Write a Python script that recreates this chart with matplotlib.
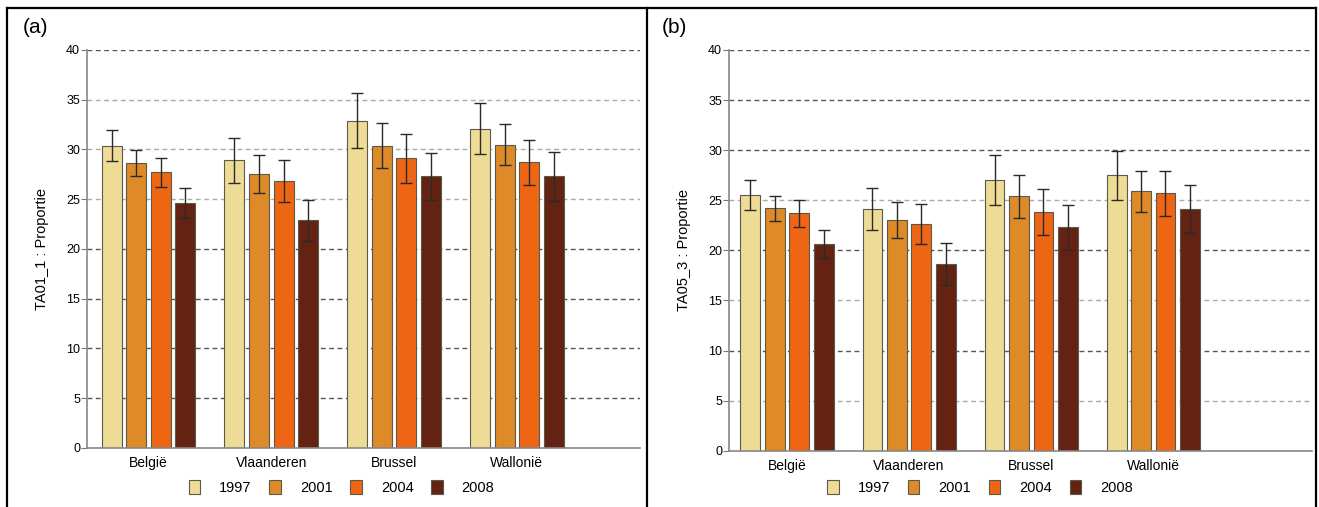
import matplotlib.pyplot as plt
import matplotlib.lines as mlines
import numpy as np

plt.rcParams['font.family'] = ['Liberation Sans', 'DejaVu Sans']

regions = ['België', 'Vlaanderen', 'Brussel', 'Walloni\u00eb']
years = ['1997', '2001', '2004', '2008']
colors = ['#EEDC96', '#DE8A28', '#EE6514', '#642312']

# panel (a): TA01_1
a_1997 = [30.4, 28.9, 32.9, 32.1]
a_2001 = [28.6, 27.5, 30.4, 30.5]
a_2004 = [27.7, 26.8, 29.1, 28.7]
a_2008 = [24.6, 22.9, 27.3, 27.3]
a_err_1997 = [1.6, 2.3, 2.75, 2.6]
a_err_2001 = [1.3, 1.9, 2.3, 2.1]
a_err_2004 = [1.45, 2.1, 2.5, 2.3]
a_err_2008 = [1.5, 2.05, 2.35, 2.45]

# panel (b): TA05_3
b_1997 = [25.5, 24.1, 27.0, 27.5]
b_2001 = [24.2, 23.0, 25.4, 25.9]
b_2004 = [23.7, 22.6, 23.8, 25.7]
b_2008 = [20.6, 18.6, 22.3, 24.1]
b_err_1997 = [1.5, 2.1, 2.5, 2.45]
b_err_2001 = [1.25, 1.8, 2.15, 2.05]
b_err_2004 = [1.35, 2.0, 2.3, 2.25]
b_err_2008 = [1.4, 2.1, 2.25, 2.4]

fig = plt.figure(figsize=(13.19, 5.07), dpi=100)


def panel(rect, vals, errs, ylabel, xlim, dark_lines):
    ax = fig.add_axes(rect)
    x = np.arange(len(regions))
    pitch = 0.2
    for i, (v, e) in enumerate(zip(vals, errs)):
        pos = x + (i - 1.5) * pitch
        ax.bar(pos, v, width=0.162, color=colors[i], edgecolor='#5a5a4a',
               linewidth=0.8, zorder=2, label=years[i])
        ax.errorbar(pos, v, yerr=e, fmt='none', ecolor='#2a2a2a',
                    elinewidth=1.0, capsize=4.5, capthick=1.0, zorder=3)
    ax.set_ylim(0, 40)
    ax.set_xlim(*xlim)
    ax.set_yticks(range(0, 41, 5))
    for t in ax.get_yticks()[1:]:
        c = '#555555' if t in dark_lines else '#aaaaaa'
        ax.axhline(t, color=c, linestyle=(0, (3.5, 2.5)), linewidth=1.0, zorder=1)
    ax.set_xticks(x)
    ax.set_xticklabels(regions, fontsize=10)
    ax.tick_params(axis='x', length=0, pad=6)
    ax.tick_params(axis='y', labelsize=9, length=4, color='#777777', pad=1)
    for s in ['top', 'right']:
        ax.spines[s].set_visible(False)
    for s in ['left', 'bottom']:
        ax.spines[s].set_color('#888888')
        ax.spines[s].set_linewidth(1.2)
    ax.set_ylabel(ylabel, fontsize=10.5, labelpad=12)
    return ax


ax1 = panel([0.066, 0.1164, 0.419, 0.785],
            [a_1997, a_2001, a_2004, a_2008],
            [a_err_1997, a_err_2001, a_err_2004, a_err_2008],
            'TA01_1 : Proportie', (-0.5, 4.0), [40, 20, 15, 10, 5])
ax2 = panel([0.5527, 0.111, 0.442, 0.7904],
            [b_1997, b_2001, b_2004, b_2008],
            [b_err_1997, b_err_2001, b_err_2004, b_err_2008],
            'TA05_3 : Proportie', (-0.475, 4.3), [40, 35, 30, 20, 10])

for ax, cx in [(ax1, 0.259), (ax2, 0.743)]:
    handles, labels = ax.get_legend_handles_labels()
    fig.legend(handles, labels, loc='center', bbox_to_anchor=(cx, 0.039),
               ncol=4, frameon=False, fontsize=10.5, handlelength=0.8,
               handleheight=1.1, handletextpad=1.3, columnspacing=1.2)

fig.text(0.017, 0.945, '(a)', fontsize=15, va='center')
fig.text(0.502, 0.945, '(b)', fontsize=15, va='center')

# panel frames
top = 1 - 8 / 507
for xs, ys in [([0.0053, 0.9977], [top, top]),
               ([0.0053, 0.0053], [0, top]),
               ([0.4905, 0.4905], [0, top]),
               ([0.9977, 0.9977], [0, top])]:
    fig.add_artist(mlines.Line2D(xs, ys, color='black', linewidth=1.6))

fig.savefig('out.png', dpi=100)
